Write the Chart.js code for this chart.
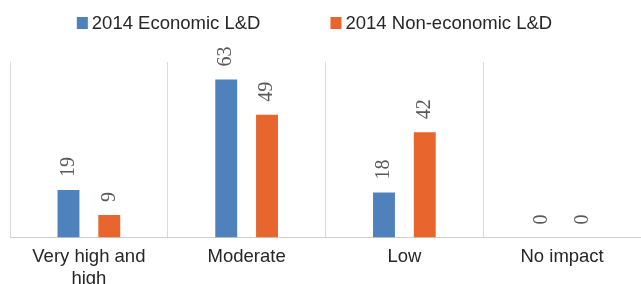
<!DOCTYPE html>
<html>
<head>
<meta charset="utf-8">
<script src="https://cdn.jsdelivr.net/npm/chart.js@4/dist/chart.umd.min.js"></script>
<style>
  html, body { margin: 0; padding: 0; background: #fff; }
  .chartWrap { width: 641px; height: 284px; position: relative; }
</style>
</head>
<body>
<div class="chartWrap">
  <canvas id="chart"></canvas>
</div>
<script>
const categories = [["Very high and", "high"], "Moderate", "Low", "No impact"];
const economic = [19, 63, 18, 0];
const nonEconomic = [9, 49, 42, 0];
const seriesNames = ["2014 Economic L&D", "2014 Non-economic L&D"];

const sansFont = "'Liberation Sans', Arial, sans-serif";

// values written sideways above each bar
const barValues = {
  id: "barValues",
  afterDatasetsDraw(chart) {
    const ctx = chart.ctx;
    ctx.save();
    ctx.font = "20px 'Liberation Serif', 'Times New Roman', serif";
    ctx.fillStyle = "#595959";
    ctx.textAlign = "left";
    ctx.textBaseline = "middle";
    chart.data.datasets.forEach((ds, i) => {
      chart.getDatasetMeta(i).data.forEach((bar, j) => {
        ctx.save();
        ctx.translate(bar.x, bar.y - 13);
        ctx.rotate(-Math.PI / 2);
        ctx.fillText(String(ds.data[j]), 0, 0);
        ctx.restore();
      });
    });
    ctx.restore();
  },
};

// legend drawn by hand so the spacing can follow the original
const topLegend = {
  id: "topLegend",
  afterDraw(chart) {
    const ctx = chart.ctx;
    ctx.save();
    ctx.font = "18.5px " + sansFont;
    ctx.textBaseline = "middle";
    ctx.textAlign = "left";
    const box = 11, gapText = 4, gapItem = 70;
    const items = chart.data.datasets.map((ds) => ({
      text: ds.label,
      color: ds.backgroundColor,
      w: box + gapText + ctx.measureText(ds.label).width,
    }));
    const total = items.reduce((s, it) => s + it.w, 0) + gapItem * (items.length - 1);
    let x = chart.width / 2 - 6 - total / 2;
    const y = 23;
    items.forEach((it) => {
      ctx.fillStyle = it.color;
      ctx.fillRect(x, y - 6, box, 12);
      ctx.fillStyle = "#262626";
      ctx.fillText(it.text, x + box + gapText, y + 1);
      x += it.w + gapItem;
    });
    ctx.restore();
  },
};

const barStyle = {
  borderWidth: 0,
  categoryPercentage: 0.517,
  barPercentage: 0.537,
};

new Chart(document.getElementById("chart"), {
  type: "bar",
  data: {
    labels: categories,
    datasets: [
      { label: seriesNames[0], data: economic, backgroundColor: "#4F81BD", ...barStyle },
      { label: seriesNames[1], data: nonEconomic, backgroundColor: "#E8652E", ...barStyle },
    ],
  },
  options: {
    responsive: true,
    maintainAspectRatio: false,
    animation: false,
    layout: { padding: { top: 62, left: 10, right: -4, bottom: -14 } },
    plugins: {
      legend: { display: false },
      tooltip: { enabled: false },
    },
    scales: {
      x: {
        offset: true,
        grid: {
          offset: true,
          color: "#D9D9D9",
          lineWidth: 1,
          drawTicks: false,
          tickLength: 0,
        },
        border: { display: true, color: "#D0D0D0", width: 1 },
        ticks: {
          color: "#262626",
          padding: 8,
          maxRotation: 0,
          autoSkip: false,
          font: { family: sansFont, size: 18.5, lineHeight: 1.2 },
        },
      },
      y: {
        display: false,
        min: 0,
        max: 70,
      },
    },
  },
  plugins: [barValues, topLegend],
});
</script>
</body>
</html>
